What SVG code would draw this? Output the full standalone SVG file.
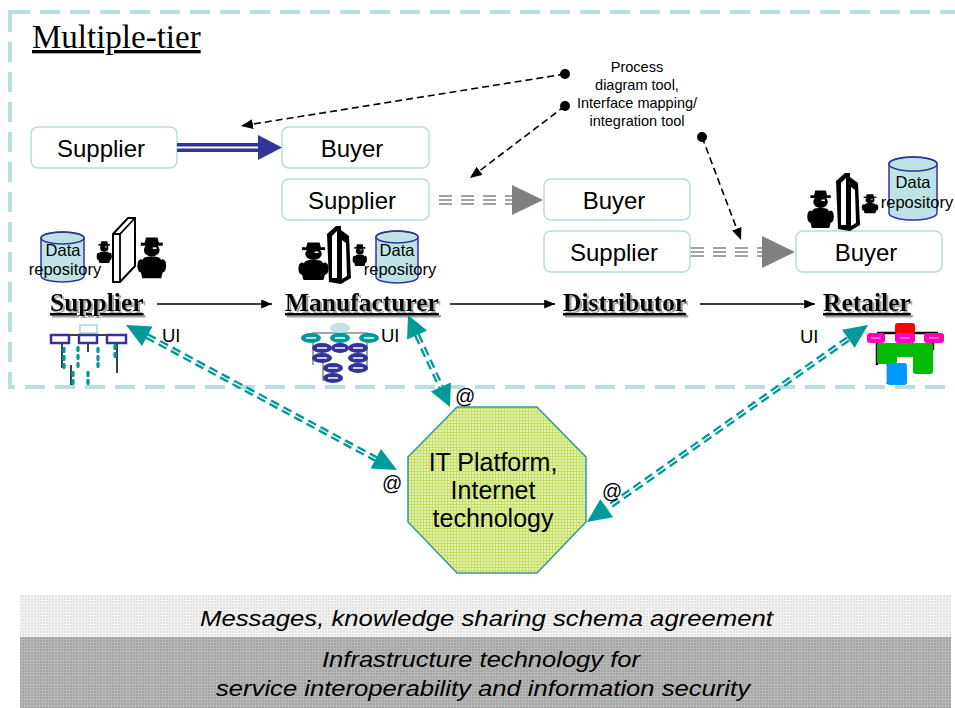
<svg xmlns="http://www.w3.org/2000/svg" width="955" height="708" viewBox="0 0 955 708">
  <defs>
    <style>
      .box{fill:#fff;stroke:#b4dde1;stroke-width:1.5}
      .lbl{font-family:"Liberation Sans",Arial,sans-serif;font-size:24px;fill:#000;text-anchor:middle}
      .tier{font-family:"Liberation Serif","Times New Roman",serif;font-size:25.5px;font-weight:bold;text-decoration:underline;filter:url(#softShadow)}
      .repo{font-family:"Liberation Sans",Arial,sans-serif;font-size:16.5px;text-anchor:middle;fill:#000}
      .ui{font-family:"Liberation Sans",Arial,sans-serif;font-size:18.5px;fill:#000}
      .at{font-family:"Liberation Sans",Arial,sans-serif;font-size:20px;fill:#000}
      .note{font-family:"Liberation Sans",Arial,sans-serif;font-size:14.5px;text-anchor:middle;fill:#000}
      .plat{font-family:"Liberation Sans",Arial,sans-serif;font-size:25px;text-anchor:middle;fill:#000}
      .band{font-family:"Liberation Sans",Arial,sans-serif;font-size:22px;font-style:italic;fill:#000}
      .cyl{fill:#bfe2e5;stroke:#333399;stroke-width:1.5}
      .teal{stroke:#009999;stroke-width:6;stroke-dasharray:9 5;fill:none}
      .tealgap{stroke:#fff;stroke-width:1.4;stroke-dasharray:9 5;fill:none}
      .tealhead{fill:#009999}
      .flow{stroke:#000;stroke-width:1.5;fill:none}
      .ptr{stroke:#000;stroke-width:1.6;stroke-dasharray:7 4;fill:none}
      .gray3{stroke:#858585;stroke-width:1.6;stroke-dasharray:13 9;fill:none}
      .grayhead{fill:#808080}
      .blue-el{fill:#333399}
      .teal-el{fill:#009999}
      .inner{stroke:#fff;stroke-width:1.5}
    </style>
    <filter id="softShadow" x="-5%" y="-20%" width="115%" height="150%">
      <feDropShadow dx="2" dy="2" stdDeviation="0.6" flood-color="#8c8c8c" flood-opacity="0.8"/>
    </filter>
    <marker id="ah" viewBox="0 0 12 10" refX="12" refY="5" markerWidth="12" markerHeight="9" orient="auto" markerUnits="userSpaceOnUse">
      <path d="M0,0 L12,5 L0,10 Z" fill="#000"/>
    </marker>
    <marker id="ahp" viewBox="0 0 12 10" refX="12" refY="5" markerWidth="12" markerHeight="10" orient="auto" markerUnits="userSpaceOnUse">
      <path d="M0,0 L12,5 L0,10 Z" fill="#000"/>
    </marker>
    <pattern id="meshGreen" width="3" height="3" patternUnits="userSpaceOnUse">
      <rect width="3" height="3" fill="#e4f2a8"/>
      <path d="M0,0.5 H3 M0.5,0 V3" stroke="#c3de6c" stroke-width="1"/>
    </pattern>
    <pattern id="meshLight" width="3" height="3" patternUnits="userSpaceOnUse">
      <rect width="3" height="3" fill="#e2e2e2"/>
      <path d="M0,0.5 H3 M0.5,0 V3" stroke="#f4f4f4" stroke-width="1"/>
    </pattern>
    <pattern id="meshDark" width="3" height="3" patternUnits="userSpaceOnUse">
      <rect width="3" height="3" fill="#a4a4a4"/>
      <path d="M0,0.5 H3 M0.5,0 V3" stroke="#b8b8b8" stroke-width="1"/>
    </pattern>
    <!-- clip-art person, 30 x 40 -->
    <g id="person">
      <path d="M8,7 L9.5,0.5 L20.5,0.5 L22,7 Z" fill="#000"/>
      <rect x="4.5" y="5.5" width="21" height="3" fill="#000"/>
      <ellipse cx="15" cy="12.5" rx="7.5" ry="6.5" fill="#000"/>
      <rect x="16" y="10" width="3.5" height="1.6" fill="#fff"/>
      <path d="M6,40 C4,34 3,24 8,20 C10,18.5 20,18.5 22,20 C27,24 26,34 24,40 Z" fill="#000"/>
      <ellipse cx="4.5" cy="28" rx="3.2" ry="6.5" fill="#000"/>
      <ellipse cx="25.5" cy="28" rx="3.2" ry="6.5" fill="#000"/>
    </g>
    <!-- dark slab panel, 25 x 58 -->
    <g id="door">
      <polygon points="0,8 9,0 14,0 14,4 22,10 24,52 14,58 2,56" fill="#000"/>
      <polygon points="5,10 10,5 10,52 5,52" fill="#fff"/>
      <polygon points="15,14 19,17 20,50 15,53" fill="#fff"/>
    </g>
  </defs>

  <rect width="955" height="708" fill="#fff"/>

  <!-- multiple-tier frame -->
  <rect x="10" y="12" width="970" height="375" fill="none" stroke="#b7dfe1" stroke-width="4" stroke-dasharray="20 10"/>
  <text x="32" y="48" font-family="Liberation Serif,'Times New Roman',serif" font-size="33" text-decoration="underline">Multiple-tier</text>

  <!-- supplier / buyer pairs -->
  <g id="pair-supplier-1"><rect class="box" x="31" y="127" width="146" height="41" rx="7"/><text class="lbl" x="101" y="157">Supplier</text></g>
  <g id="pair-buyer-1"><rect class="box" x="282" y="127" width="147" height="41" rx="7"/><text class="lbl" x="352" y="157">Buyer</text></g>
  <g id="pair-supplier-2"><rect class="box" x="282" y="179" width="147" height="41" rx="7"/><text class="lbl" x="352" y="209">Supplier</text></g>
  <g id="pair-buyer-2"><rect class="box" x="544" y="179" width="146" height="41" rx="7"/><text class="lbl" x="614" y="209">Buyer</text></g>
  <g id="pair-supplier-3"><rect class="box" x="544" y="231" width="146" height="41" rx="7"/><text class="lbl" x="614" y="261">Supplier</text></g>
  <g id="pair-buyer-3"><rect class="box" x="796" y="231" width="146" height="41" rx="7"/><text class="lbl" x="866" y="261">Buyer</text></g>

  <!-- tool note -->
  <g id="tool-note">
    <text class="note" x="637" y="72">Process</text>
    <text class="note" x="637" y="90">diagram tool,</text>
    <text class="note" x="637" y="108">Interface mapping/</text>
    <text class="note" x="637" y="126">integration tool</text>
    <circle cx="565" cy="74" r="5" fill="#000"/>
    <circle cx="565" cy="106" r="5" fill="#000"/>
    <circle cx="702" cy="137" r="5" fill="#000"/>
  </g>

  <!-- supplier node -->
  <g id="supplier">
    <path class="cyl" d="M41,238 A21.5,6 0 0 1 84,238 V276 A21.5,6 0 0 1 41,276 Z"/>
    <ellipse cx="62.5" cy="238" rx="21.5" ry="6" fill="none" stroke="#333399" stroke-width="1.5"/>
    <text class="repo" x="63" y="256">Data</text>
    <text class="repo" x="65" y="275">repository</text>
    <use href="#person" transform="translate(96,241) scale(0.55)"/>
    <polygon points="113,234 128,218 135,218 135,266 120,282 113,282" fill="#fff" stroke="#000" stroke-width="2"/>
    <polyline points="113,234 120,234 135,218" fill="none" stroke="#000" stroke-width="1.8"/>
    <line x1="120" y1="234" x2="120" y2="282" stroke="#000" stroke-width="1.8"/>
    <use href="#person" transform="translate(136,237) scale(1.05,1.03)"/>
    <text class="tier" x="50" y="311">Supplier</text>
    <!-- UI icon -->
    <line x1="60" y1="335" x2="118" y2="335" stroke="#000" stroke-width="1.5"/>
    <line x1="62" y1="343" x2="62" y2="368" stroke="#000" stroke-width="1.5"/>
    <line x1="88" y1="343" x2="88" y2="352" stroke="#000" stroke-width="1.5"/>
    <line x1="117" y1="343" x2="117" y2="373" stroke="#000" stroke-width="1.5"/>
    <line x1="71" y1="365" x2="71" y2="385" stroke="#000" stroke-width="1.5"/>
    <rect x="80" y="325" width="17" height="8" fill="#fff" stroke="#bde2e4" stroke-width="2"/>
    <rect x="51" y="335" width="18" height="8" fill="#fff" stroke="#333399" stroke-width="2.5"/>
    <rect x="79" y="335" width="18" height="8" fill="#fff" stroke="#333399" stroke-width="2.5"/>
    <rect x="107" y="335" width="19" height="8" fill="#fff" stroke="#333399" stroke-width="2.5"/>
    <g class="teal-el">
      <ellipse cx="64" cy="350" rx="1.7" ry="3.2"/><ellipse cx="64" cy="358" rx="1.7" ry="3.2"/><ellipse cx="64" cy="366" rx="1.7" ry="3.2"/>
      <ellipse cx="78" cy="349" rx="1.7" ry="3.2"/><ellipse cx="78" cy="357" rx="1.7" ry="3.2"/><ellipse cx="78" cy="365" rx="1.7" ry="3.2"/>
      <ellipse cx="98" cy="350" rx="1.7" ry="3.2"/><ellipse cx="98" cy="358" rx="1.7" ry="3.2"/><ellipse cx="98" cy="365" rx="1.7" ry="3.2"/>
      <ellipse cx="115" cy="347" rx="1.7" ry="3.2"/><ellipse cx="115" cy="355" rx="1.7" ry="3.2"/>
      <ellipse cx="73" cy="374" rx="1.7" ry="3.2"/><ellipse cx="73" cy="382" rx="1.7" ry="3.2"/>
      <ellipse cx="88" cy="374" rx="1.7" ry="3.2"/><ellipse cx="88" cy="382" rx="1.7" ry="3.2"/>
    </g>
    <text class="ui" x="162" y="342">UI</text>
  </g>

  <!-- manufacturer node -->
  <g id="manufacturer">
    <use href="#person" transform="translate(297,242) scale(1.1,0.95)"/>
    <use href="#door" transform="translate(327,226)"/>
    <use href="#person" transform="translate(352,244) scale(0.52,0.55)"/>
    <path class="cyl" d="M376,237 A21,6 0 0 1 418,237 V277 A21,6 0 0 1 376,277 Z"/>
    <ellipse cx="397" cy="237" rx="21" ry="6" fill="none" stroke="#333399" stroke-width="1.5"/>
    <text class="repo" x="397" y="256">Data</text>
    <text class="repo" x="400" y="275">repository</text>
    <text class="tier" x="285" y="311">Manufacturer</text>
    <!-- UI icon -->
    <g stroke="#888" stroke-width="1.5" fill="none">
      <polyline points="313,365 313,333 367,333 367,370"/>
      <line x1="323" y1="360" x2="323" y2="381"/>
    </g>
    <ellipse cx="340" cy="328" rx="10" ry="5" fill="#bfe2e5"/>
    <g class="teal-el">
      <ellipse cx="311" cy="338" rx="10" ry="5"/><ellipse cx="340" cy="338" rx="10" ry="5"/><ellipse cx="369" cy="338" rx="10" ry="5"/>
    </g>
    <g class="blue-el">
      <ellipse cx="322" cy="348" rx="10" ry="5"/><ellipse cx="340" cy="348" rx="9" ry="5"/><ellipse cx="358" cy="348" rx="10" ry="5"/>
      <ellipse cx="322" cy="358" rx="10" ry="5"/><ellipse cx="358" cy="358" rx="10" ry="5"/>
      <ellipse cx="333" cy="368" rx="10" ry="5"/><ellipse cx="358" cy="368" rx="10" ry="5"/>
      <ellipse cx="333" cy="378" rx="10" ry="5"/>
    </g>
    <g class="inner">
      <line x1="306" y1="338" x2="316" y2="338"/><line x1="335" y1="338" x2="345" y2="338"/><line x1="364" y1="338" x2="374" y2="338"/>
      <line x1="317" y1="348" x2="327" y2="348"/><line x1="335" y1="348" x2="345" y2="348"/><line x1="353" y1="348" x2="363" y2="348"/>
      <line x1="317" y1="358" x2="327" y2="358"/><line x1="353" y1="358" x2="363" y2="358"/>
      <line x1="328" y1="368" x2="338" y2="368"/><line x1="353" y1="368" x2="363" y2="368"/>
      <line x1="328" y1="378" x2="338" y2="378"/>
    </g>
    <text class="ui" x="381" y="342">UI</text>
  </g>

  <!-- distributor node -->
  <g id="distributor">
    <text class="tier" x="563" y="311">Distributor</text>
  </g>

  <!-- retailer node -->
  <g id="retailer">
    <use href="#person" transform="translate(806,190) scale(0.97,0.95)"/>
    <use href="#door" transform="translate(836,173)"/>
    <use href="#person" transform="translate(861,194) scale(0.6,0.48)"/>
    <path class="cyl" d="M889,164 A24,7 0 0 1 937,164 V213 A24,7 0 0 1 889,213 Z"/>
    <ellipse cx="913" cy="164" rx="24" ry="7" fill="none" stroke="#333399" stroke-width="1.5"/>
    <text class="repo" x="913" y="188">Data</text>
    <text class="repo" x="917" y="208">repository</text>
    <text class="tier" x="823" y="311">Retailer</text>
    <!-- UI icon -->
    <g stroke="#000" stroke-width="2.5">
      <line x1="877" y1="333" x2="938" y2="333"/>
      <line x1="877" y1="333" x2="877" y2="365"/>
      <line x1="888" y1="362" x2="888" y2="384"/>
      <line x1="933" y1="333" x2="933" y2="350"/>
    </g>
    <rect x="895" y="323" width="20" height="11" rx="3" fill="#ff0000"/>
    <g fill="#ff00bb">
      <rect x="867" y="333" width="18" height="10" rx="3"/>
      <rect x="895" y="333" width="20" height="10" rx="3"/>
      <rect x="924" y="333" width="20" height="10" rx="3"/>
    </g>
    <g stroke="#ff88dd" stroke-width="1.5">
      <line x1="871" y1="338" x2="881" y2="338"/><line x1="900" y1="338" x2="910" y2="338"/><line x1="929" y1="338" x2="939" y2="338"/>
    </g>
    <g fill="#00bb00">
      <rect x="877" y="343" width="56" height="14" rx="3"/>
      <rect x="877" y="343" width="20" height="21" rx="3"/>
      <rect x="913" y="343" width="20" height="31" rx="3"/>
    </g>
    <rect x="887" y="363" width="20" height="22" rx="3" fill="#0099ff"/>
    <text class="ui" x="800" y="343">UI</text>
  </g>

  <!-- IT platform node -->
  <g id="it-platform">
    <polygon points="457,407 537,407 586,457 586,522 537,573 457,573 408,522 408,457" fill="url(#meshGreen)" stroke="#339999" stroke-width="1.5"/>
    <text class="plat" x="493" y="471">IT Platform,</text>
    <text class="plat" x="493" y="499">Internet</text>
    <text class="plat" x="493" y="527">technology</text>
  </g>

  <!-- base layers -->
  <g id="layer-messages">
    <rect x="20" y="595" width="931" height="42" fill="url(#meshLight)"/>
    <text class="band" x="200" y="626" textLength="573" lengthAdjust="spacingAndGlyphs">Messages, knowledge sharing schema agreement</text>
  </g>
  <g id="layer-infrastructure">
    <rect x="20" y="637" width="931" height="71" fill="url(#meshDark)"/>
    <text class="band" x="322" y="667" textLength="318" lengthAdjust="spacingAndGlyphs">Infrastructure technology for</text>
    <text class="band" x="216" y="696" textLength="534" lengthAdjust="spacingAndGlyphs">service interoperability and information security</text>
  </g>

  <!-- connectors -->
  <g id="connectors">
    <!-- supplier to buyer (tier 1) -->
    <line x1="177" y1="147.5" x2="260" y2="147.5" stroke="#333399" stroke-width="9"/>
    <line x1="177" y1="147.5" x2="258" y2="147.5" stroke="#fff" stroke-width="2"/>
    <polygon points="258,135 282,147.5 258,160" fill="#333399"/>

    <!-- supplier to buyer (tiers 2 and 3) -->
    <g class="gray3">
      <line x1="439" y1="196" x2="512" y2="196"/><line x1="439" y1="200" x2="512" y2="200"/><line x1="439" y1="204" x2="512" y2="204"/>
      <line x1="691" y1="248" x2="762" y2="248"/><line x1="691" y1="252" x2="762" y2="252"/><line x1="691" y1="256" x2="762" y2="256"/>
    </g>
    <polygon class="grayhead" points="512,185 543,200 512,215"/>
    <polygon class="grayhead" points="762,236 795,252 762,268"/>

    <!-- tool pointers -->
    <line class="ptr" x1="565" y1="74" x2="241" y2="126" marker-end="url(#ahp)"/>
    <line class="ptr" x1="565" y1="106" x2="470" y2="178" marker-end="url(#ahp)"/>
    <line class="ptr" x1="702" y1="137" x2="741" y2="240" marker-end="url(#ahp)"/>

    <!-- value chain flow -->
    <line class="flow" x1="157" y1="304" x2="272" y2="304" marker-end="url(#ah)"/>
    <line class="flow" x1="450" y1="304" x2="555" y2="304" marker-end="url(#ah)"/>
    <line class="flow" x1="700" y1="304" x2="815" y2="304" marker-end="url(#ah)"/>

    <!-- supplier UI to platform -->
    <line class="teal" x1="147" y1="336" x2="376" y2="459"/>
    <line class="tealgap" x1="147" y1="336" x2="376" y2="459"/>
    <polygon class="tealhead" points="126,325 142,346 152.4,326.6"/>
    <polygon class="tealhead" points="397,470 370.6,468.4 381,449"/>
    <text class="at" x="382" y="490">@</text>

    <!-- manufacturer UI to platform -->
    <line class="teal" x1="417" y1="335" x2="441" y2="387"/>
    <line class="tealgap" x1="417" y1="335" x2="441" y2="387"/>
    <polygon class="tealhead" points="408,315 407.1,339.6 427.1,330.4"/>
    <polygon class="tealhead" points="450,407 430.9,391.5 450.9,382.4"/>
    <text class="at" x="455" y="403">@</text>

    <!-- retailer UI to platform -->
    <line class="teal" x1="848" y1="339" x2="607" y2="508"/>
    <line class="tealgap" x1="848" y1="339" x2="607" y2="508"/>
    <polygon class="tealhead" points="868,325 842,329.8 854.7,347.8"/>
    <polygon class="tealhead" points="587,522 600.3,499.2 613,517.2"/>
    <text class="at" x="602" y="498">@</text>
  </g>
</svg>
